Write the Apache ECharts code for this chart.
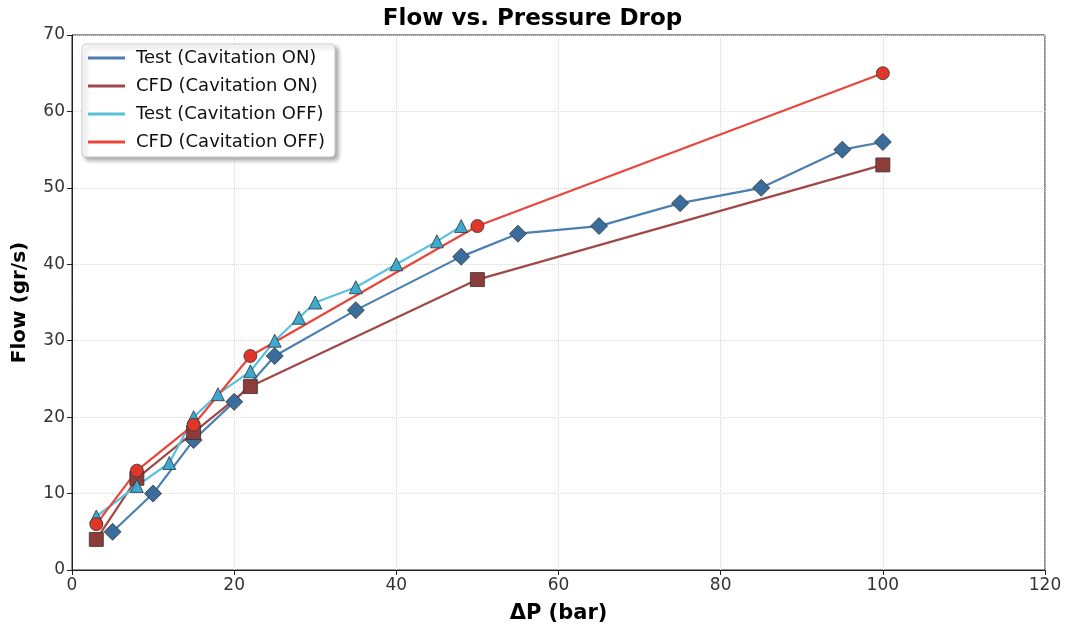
<!DOCTYPE html>
<html><head><meta charset="utf-8">
<script src="https://cdn.jsdelivr.net/npm/echarts@6/dist/echarts.min.js"></script>
<style>html,body{margin:0;padding:0;background:#fff}#c{width:1065px;height:628px}</style>
</head><body><div id="c"></div>
<script>
const testOnX = [5,10,15,20,25,35,48,55,65,75,85,95,100];
const testOnY = [5,10,17,22,28,34,41,44,45,48,50,55,56];
const cfdOnX = [3,8,15,22,50,100];
const cfdOnY = [4,12,18,24,38,53];
const testOffX = [3,8,12,15,18,22,25,28,30,35,40,45,48];
const testOffY = [7,11,14,20,23,26,30,33,35,37,40,43,45];
const cfdOffX = [3,8,15,22,50,100];
const cfdOffY = [6,13,19,28,45,65];
const xTicks = [0,20,40,60,80,100,120];
const yTicks = [0,10,20,30,40,50,60,70];

const zip = (a,b)=>a.map((v,i)=>[v,b[i]]);
const chart = echarts.init(document.getElementById('c'));
const FONT = 'DejaVu Sans';
function ser(name, data, lineColor, markColor, symbol, size){
  return {name, type:'line', data, symbol, symbolSize:size,
    lineStyle:{color:lineColor,width:2.2},
    itemStyle:{color:markColor,borderColor:'#333',borderWidth:0.8,opacity:1},
    emphasis:{disabled:true}};
}
chart.setOption({
  animation:false,
  title:{text:'Flow vs. Pressure Drop',left:'center',top:3,
    textStyle:{fontFamily:FONT,fontSize:23,fontWeight:'bold',color:'#000'}},
  grid:{left:72,right:20,top:35,bottom:58,show:true,borderColor:'#222',borderWidth:1,backgroundColor:'transparent',outerBoundsMode:'none',containLabel:false},
  legend:{orient:'vertical',left:82,top:44,
    backgroundColor:'#fff',borderColor:'#ccc',borderWidth:1,borderRadius:4,
    shadowBlur:4,shadowColor:'rgba(0,0,0,0.35)',shadowOffsetX:3,shadowOffsetY:3,
    padding:[5,10,6,6],itemGap:10,itemWidth:37,itemHeight:3,
    icon:'rect',
    textStyle:{fontFamily:FONT,fontSize:18,color:'#111',padding:[0,0,0,6]},
    data:[
      {name:'Test (Cavitation ON)',itemStyle:{color:'#4a7fb0',borderWidth:0}},
      {name:'CFD (Cavitation ON)',itemStyle:{color:'#a04848',borderWidth:0}},
      {name:'Test (Cavitation OFF)',itemStyle:{color:'#5bc0de',borderWidth:0}},
      {name:'CFD (Cavitation OFF)',itemStyle:{color:'#e8463a',borderWidth:0}}
    ]},
  xAxis:{type:'value',min:xTicks[0],max:xTicks[xTicks.length-1],interval:20,
    name:'ΔP (bar)',nameLocation:'middle',nameGap:33,
    nameTextStyle:{fontFamily:FONT,fontSize:21,fontWeight:'bold',color:'#000'},
    axisLine:{show:true,lineStyle:{color:'#222'}},
    axisTick:{show:true,length:5,lineStyle:{color:'#222'}},
    axisLabel:{fontFamily:FONT,fontSize:17,color:'#333',margin:7},
    splitLine:{show:true,lineStyle:{color:'#d8d8d8',type:'dotted'}}},
  yAxis:{type:'value',min:yTicks[0],max:yTicks[yTicks.length-1],interval:10,
    name:'Flow (gr/s)',nameLocation:'middle',nameGap:42,
    nameTextStyle:{fontFamily:FONT,fontSize:20,fontWeight:'bold',color:'#000'},
    axisLine:{show:true,lineStyle:{color:'#222'}},
    axisTick:{show:true,length:5,lineStyle:{color:'#222'}},
    axisLabel:{fontFamily:FONT,fontSize:17,color:'#333',margin:7},
    splitLine:{show:true,lineStyle:{color:'#d8d8d8',type:'dotted'}}},
  series:[
    ser('Test (Cavitation ON)', zip(testOnX,testOnY), '#4a7fb0', '#3b6d9c', 'diamond', 17),
    ser('CFD (Cavitation ON)', zip(cfdOnX,cfdOnY), '#a04848', '#8e3b3b', 'rect', 14),
    ser('Test (Cavitation OFF)', zip(testOffX,testOffY), '#5bc0de', '#3ba9d0', 'triangle', 13),
    ser('CFD (Cavitation OFF)', zip(cfdOffX,cfdOffY), '#e8463a', '#e0362a', 'circle', 13)
  ]
});
</script></body></html>
